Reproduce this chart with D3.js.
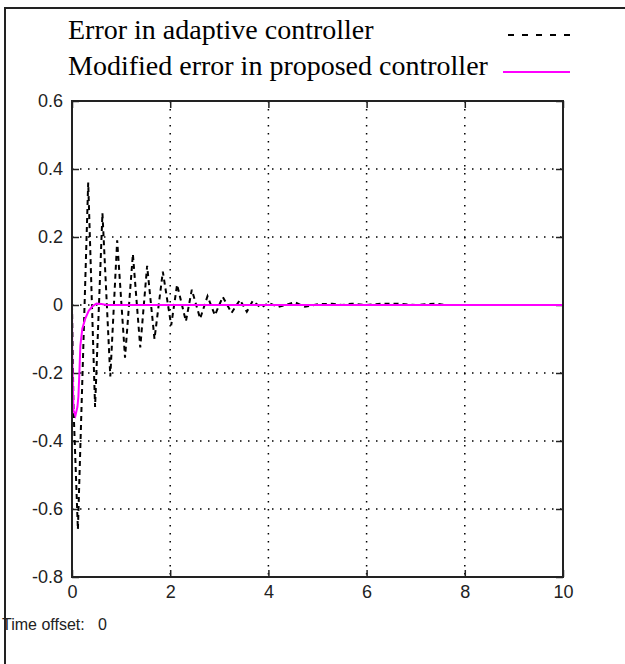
<!DOCTYPE html>
<html>
<head>
<meta charset="utf-8">
<script src="https://cdn.jsdelivr.net/npm/d3@7"></script>
<style>
  body { margin: 0; background: #fff; }
  svg { display: block; }
</style>
</head>
<body>
<div id="chart"></div>
<script>
// values
const adaptiveTime = [0, 0.03, 0.12, 0.33, 0.47, 0.62, 0.78, 0.92, 1.08, 1.24, 1.39, 1.53, 1.68, 1.85, 2.02, 2.14, 2.32, 2.44, 2.61, 2.76, 2.91, 3.07, 3.25, 3.42, 3.56, 3.68, 3.85, 4.0, 4.2, 4.54, 4.74, 5.0, 5.3, 5.5, 5.7, 6.0, 6.3, 6.6, 7.0, 7.4, 7.6, 10]
const adaptiveError = [0, -0.3, -0.66, 0.36, -0.30, 0.27, -0.21, 0.19, -0.155, 0.15, -0.125, 0.115, -0.10, 0.098, -0.06, 0.06, -0.048, 0.045, -0.04, 0.026, -0.03, 0.024, -0.023, 0.015, -0.02, 0.012, -0.008, 0.006, -0.006, 0.008, -0.005, 0.002, 0.004, 0, 0.004, 0, 0.004, 0.004, 0, 0.004, 0, 0]

const proposedTime = [0, 0.005, 0.03, 0.07, 0.11, 0.13, 0.15, 0.17, 0.21, 0.27, 0.34, 0.42, 0.5, 0.6, 0.7, 10]
const proposedError = [0, -0.15, -0.31, -0.325, -0.30, -0.27, -0.2, -0.12, -0.07, -0.04, -0.017, -0.003, 0.004, 0.003, 0, 0]

const xTickValues = [0, 2, 4, 6, 8, 10]
const yTickValues = [-0.8, -0.6, -0.4, -0.2, 0, 0.2, 0.4, 0.6]
const legendLabels = ['Error in adaptive controller', 'Modified error in proposed controller']
const timeOffsetLabel = 'Time offset:   0'

const width = 625
const height = 664
const margin = { top: 101, right: 62, bottom: 87, left: 72 }

const svg = d3.select('#chart')
  .append('svg')
  .attr('width', width)
  .attr('height', height)

// outer figure frame (only top and left edges show)
svg.append('path')
  .attr('d', `M5,${height} V8 H${width + 5}`)
  .attr('fill', 'none')
  .attr('stroke', '#222')
  .attr('stroke-width', 2)

const x = d3.scaleLinear().domain([0, 10]).range([margin.left, width - margin.right])
const y = d3.scaleLinear().domain([-0.8, 0.6]).range([height - margin.bottom, margin.top])

// dotted grid
const grid = svg.append('g')
  .attr('stroke', '#000')
  .attr('stroke-width', 1.5)
  .attr('stroke-dasharray', '1.5,6.5')

grid.selectAll('line.vx')
  .data(xTickValues.slice(1, -1))
  .join('line')
  .attr('class', 'vx')
  .attr('x1', d => x(d)).attr('x2', d => x(d))
  .attr('y1', y.range()[1]).attr('y2', y.range()[0])

grid.selectAll('line.hy')
  .data(yTickValues.slice(1, -1))
  .join('line')
  .attr('class', 'hy')
  .attr('y1', d => y(d)).attr('y2', d => y(d))
  .attr('x1', x.range()[0]).attr('x2', x.range()[1])

// axes with inward ticks
const fmt = d => String(+d.toFixed(1))
const tickFont = '"Liberation Sans", Arial, sans-serif'

const styleAxis = g => {
  g.select('.domain').remove()
  g.selectAll('line').attr('stroke', '#222').attr('stroke-width', 1.5)
  g.selectAll('text')
    .attr('fill', '#222')
    .style('font-family', tickFont)
    .style('font-size', '18px')
}

svg.append('g')
  .attr('transform', `translate(0,${y.range()[0]})`)
  .call(d3.axisBottom(x).tickValues(xTickValues).tickFormat(fmt).tickSize(-7).tickPadding(8))
  .call(styleAxis)

svg.append('g')
  .attr('transform', `translate(${x.range()[0]},0)`)
  .call(d3.axisLeft(y).tickValues(yTickValues).tickFormat(fmt).tickSize(-7).tickPadding(9))
  .call(styleAxis)

svg.append('g')
  .attr('transform', `translate(0,${y.range()[1]})`)
  .call(d3.axisTop(x).tickValues(xTickValues).tickFormat('').tickSize(-7))
  .call(styleAxis)

svg.append('g')
  .attr('transform', `translate(${x.range()[1]},0)`)
  .call(d3.axisRight(y).tickValues(yTickValues).tickFormat('').tickSize(-7))
  .call(styleAxis)

// data lines
const line = d3.line().x(d => x(d[0])).y(d => y(d[1]))

svg.append('path')
  .datum(d3.zip(adaptiveTime, adaptiveError))
  .attr('fill', 'none')
  .attr('stroke', '#000')
  .attr('stroke-width', 2)
  .attr('stroke-dasharray', '5,4')
  .attr('d', line)

svg.append('path')
  .datum(d3.zip(proposedTime, proposedError))
  .attr('fill', 'none')
  .attr('stroke', '#ff00ff')
  .attr('stroke-width', 2)
  .attr('d', line)

// plot box
svg.append('rect')
  .attr('x', x.range()[0])
  .attr('y', y.range()[1])
  .attr('width', x.range()[1] - x.range()[0])
  .attr('height', y.range()[0] - y.range()[1])
  .attr('fill', 'none')
  .attr('stroke', '#222')
  .attr('stroke-width', 2)

// legend
const legend = svg.append('g')
const legendStyles = [
  { stroke: '#000', dash: '6,8' },
  { stroke: '#ff00ff', dash: null }
]
legend.selectAll('text')
  .data(legendLabels)
  .join('text')
  .attr('x', 68)
  .attr('y', (d, i) => 39 + i * 36)
  .style('font-family', '"Liberation Serif", "Times New Roman", serif')
  .style('font-size', '28px')
  .attr('fill', '#000')
  .text(d => d)

legend.selectAll('line')
  .data(legendStyles)
  .join('line')
  .attr('x1', (d, i) => i === 0 ? 508 : 503).attr('x2', 570)
  .attr('y1', (d, i) => 35 + i * 37).attr('y2', (d, i) => 35 + i * 37)
  .attr('stroke', d => d.stroke)
  .attr('stroke-width', 2)
  .attr('stroke-dasharray', d => d.dash)

svg.append('text')
  .attr('x', 2)
  .attr('y', 630)
  .style('font-family', tickFont)
  .style('font-size', '16px')
  .attr('fill', '#222')
  .attr('xml:space', 'preserve')
  .style('white-space', 'pre')
  .text(timeOffsetLabel)
</script>
</body>
</html>
